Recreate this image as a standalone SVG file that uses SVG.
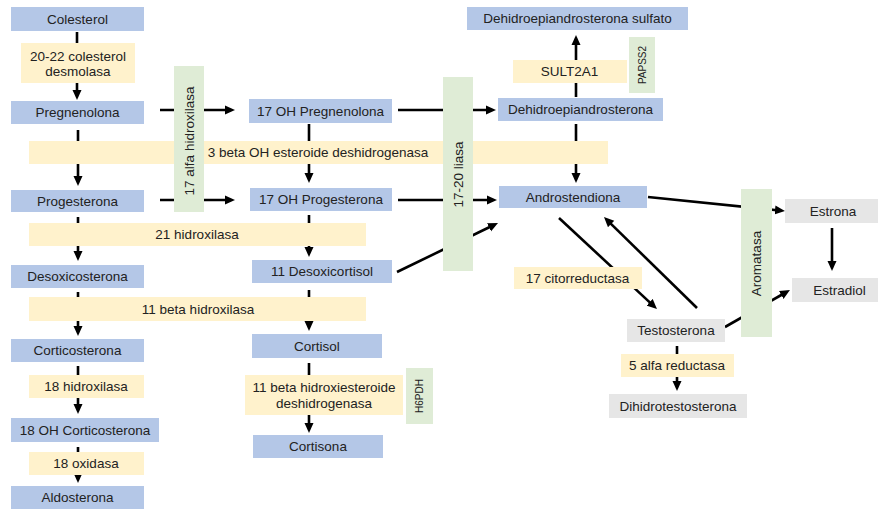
<svg xmlns="http://www.w3.org/2000/svg" width="878" height="509" viewBox="0 0 878 509">
<style>
text{font-family:"Liberation Sans",Arial,sans-serif;font-size:13.5px;fill:#222;text-anchor:middle;dominant-baseline:central}
.b{fill:#b4c7e7}
.o{fill:#fff2cc}
.g{fill:#dfecd6}
.y{fill:#e6e6e6}
.s{font-size:10px}
#connectors line{stroke:#000;stroke-width:2.6;fill:none}
.a{marker-end:url(#ah)}
</style>
<defs>
<marker id="ah" markerUnits="userSpaceOnUse" markerWidth="10" markerHeight="10" viewBox="0 0 10 10" refX="2" refY="5" orient="auto">
<path d="M0,0.5 L10,5 L0,9.5 z" fill="#000"/>
</marker>
</defs>
<rect width="878" height="509" fill="#fff"/>
<g id="connectors">
<line class="a" x1="77" y1="32" x2="77" y2="92"/>
<line class="a" x1="78" y1="130" x2="78" y2="178"/>
<line class="a" x1="78" y1="217" x2="78" y2="253"/>
<line class="a" x1="78" y1="292" x2="78" y2="328"/>
<line class="a" x1="78" y1="366" x2="78" y2="406"/>
<line class="a" x1="78" y1="447" x2="78" y2="475"/>
<line class="a" x1="160" y1="110" x2="227" y2="110"/>
<line class="a" x1="160" y1="200" x2="227" y2="200"/>
<line class="a" x1="309" y1="124" x2="309" y2="175"/>
<line class="a" x1="309" y1="215" x2="309" y2="249"/>
<line class="a" x1="309" y1="290" x2="309" y2="323"/>
<line class="a" x1="309" y1="363" x2="309" y2="425"/>
<line class="a" x1="398" y1="110" x2="488" y2="110"/>
<line class="a" x1="398" y1="200" x2="489" y2="200"/>
<line class="a" x1="397" y1="272" x2="490.8" y2="226.5"/>
<line class="a" x1="576" y1="97" x2="576" y2="43"/>
<line class="a" x1="576" y1="124" x2="576" y2="175"/>
<line class="a" x1="648" y1="197" x2="777" y2="210.2"/>
<line class="a" x1="832" y1="228" x2="832" y2="263"/>
<line class="a" x1="725" y1="327" x2="783" y2="294"/>
<line class="a" x1="559" y1="218" x2="651.1" y2="303.6"/>
<line class="a" x1="697" y1="308" x2="609.7" y2="222.6"/>
<line class="a" x1="677" y1="346" x2="677" y2="383"/>
</g>
<g id="colesterol"><rect class="b" x="11" y="7" width="133" height="24"/><text x="77.5" y="19">Colesterol</text></g>
<g id="desmolasa"><rect class="o" x="21" y="43" width="114" height="40"/><text x="78" y="56">20-22 colesterol</text><text x="78" y="71">desmolasa</text></g>
<g id="pregnenolona"><rect class="b" x="11" y="101" width="133" height="23"/><text x="77.5" y="112.5">Pregnenolona</text></g>
<g id="betaoh"><rect class="o" x="29" y="141" width="579" height="23"/><text x="318" y="152.5">3 beta OH esteroide deshidrogenasa</text></g>
<g id="progesterona"><rect class="b" x="11" y="190" width="133" height="22"/><text x="77.5" y="201">Progesterona</text></g>
<g id="hidroxilasa21"><rect class="o" x="29" y="223" width="337" height="23"/><text x="197" y="234.5">21 hidroxilasa</text></g>
<g id="desoxicosterona"><rect class="b" x="11" y="265" width="133" height="23"/><text x="77.5" y="276.5">Desoxicosterona</text></g>
<g id="hidroxilasa11"><rect class="o" x="29" y="297" width="337" height="24"/><text x="198" y="309">11 beta hidroxilasa</text></g>
<g id="corticosterona"><rect class="b" x="11" y="339" width="133" height="23"/><text x="77.5" y="350.5">Corticosterona</text></g>
<g id="hidroxilasa18"><rect class="o" x="29" y="375" width="115" height="23"/><text x="86" y="386.5">18 hidroxilasa</text></g>
<g id="ohcorticosterona"><rect class="b" x="11" y="418" width="148" height="24"/><text x="85" y="430">18 OH Corticosterona</text></g>
<g id="oxidasa18"><rect class="o" x="29" y="452" width="115" height="23"/><text x="86" y="463.5">18 oxidasa</text></g>
<g id="aldosterona"><rect class="b" x="11" y="486" width="133" height="23"/><text x="77.5" y="497.5">Aldosterona</text></g>
<g id="alfahidroxilasa"><rect class="g" x="174" y="66" width="30" height="146"/><text transform="translate(189,141) rotate(-90)">17 alfa hidroxilasa</text></g>
<g id="ohpregnenolona"><rect class="b" x="249" y="99" width="143" height="24"/><text x="320.5" y="111">17 OH Pregnenolona</text></g>
<g id="ohprogesterona"><rect class="b" x="250" y="188" width="142" height="23"/><text x="321" y="199.5">17 OH Progesterona</text></g>
<g id="desoxicortisol"><rect class="b" x="252" y="260" width="140" height="23"/><text x="322" y="271.5">11 Desoxicortisol</text></g>
<g id="cortisol"><rect class="b" x="252" y="334" width="130" height="24"/><text x="317" y="346">Cortisol</text></g>
<g id="hidroxiesteroide"><rect class="o" x="245" y="375" width="158" height="40"/><text x="324" y="387.5">11 beta hidroxiesteroide</text><text x="324" y="403">deshidrogenasa</text></g>
<g id="h6pdh"><rect class="g" x="406" y="368" width="27" height="56"/><text class="s" transform="translate(419.5,396) rotate(-90)">H6PDH</text></g>
<g id="cortisona"><rect class="b" x="253" y="435" width="130" height="23"/><text x="318" y="446.5">Cortisona</text></g>
<g id="liasa"><rect class="g" x="443" y="77" width="30" height="194"/><text transform="translate(458,174.5) rotate(-90)">17-20 liasa</text></g>
<g id="dheas"><rect class="b" x="467" y="7" width="221" height="23"/><text x="577.5" y="18.5">Dehidroepiandrosterona sulfato</text></g>
<g id="sult2a1"><rect class="o" x="513" y="60" width="114" height="23"/><text x="569.5" y="71.5">SULT2A1</text></g>
<g id="papss2"><rect class="g" x="629" y="37" width="26" height="56"/><text class="s" transform="translate(642,65) rotate(-90)">PAPSS2</text></g>
<g id="dhea"><rect class="b" x="498" y="98" width="165" height="23"/><text x="580.5" y="109.5">Dehidroepiandrosterona</text></g>
<g id="androstendiona"><rect class="b" x="499" y="186" width="148" height="22"/><text x="573" y="197">Androstendiona</text></g>
<g id="citorreductasa"><rect class="o" x="514" y="267" width="128" height="22"/><text x="577.5" y="278">17 citorreductasa</text></g>
<g id="testosterona"><rect class="y" x="627" y="319" width="98" height="23"/><text x="676" y="330.5">Testosterona</text></g>
<g id="reductasa5"><rect class="o" x="621" y="354" width="113" height="23"/><text x="677" y="365.5">5 alfa reductasa</text></g>
<g id="dihidrotestosterona"><rect class="y" x="609" y="394" width="138" height="24"/><text x="678" y="406">Dihidrotestosterona</text></g>
<g id="aromatasa"><rect class="g" x="741" y="189" width="31" height="148"/><text transform="translate(756.5,263.5) rotate(-90)">Aromatasa</text></g>
<g id="estrona"><rect class="y" x="785" y="199" width="93" height="24"/><text x="833" y="211">Estrona</text></g>
<g id="estradiol"><rect class="y" x="792" y="278" width="86" height="24"/><text x="839.5" y="290">Estradiol</text></g>
</svg>
